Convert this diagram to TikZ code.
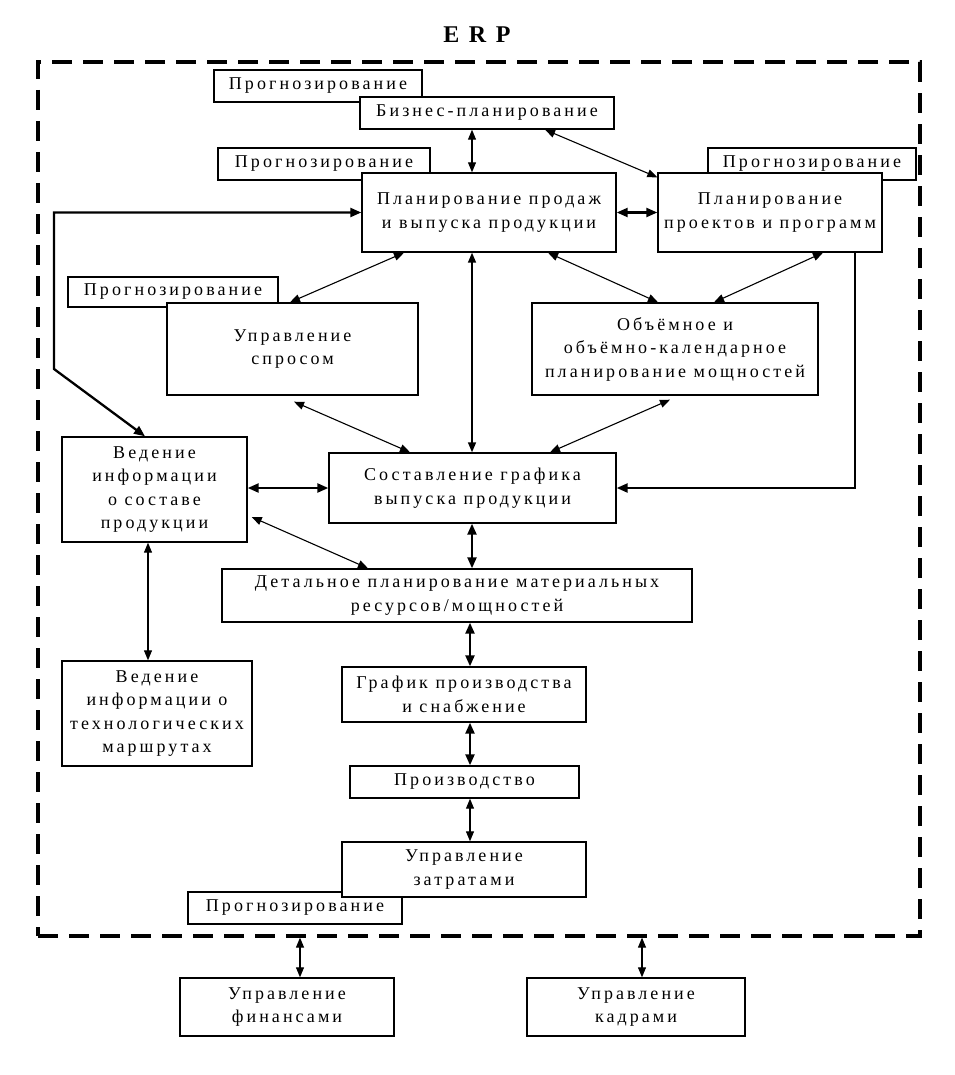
\documentclass[tikz,border=0pt]{standalone}
\usepackage{fontspec}
\setmainfont{Liberation Serif}[LetterSpace=17]
\usetikzlibrary{arrows.meta,calc}
\tikzset{
  box/.style={draw, fill=white, line width=1.4pt, inner sep=0pt, align=center,
    font=\fontsize{18}{23.5}\selectfont},
  frame/.style={draw, line width=3.2pt, dash pattern=on 20pt off 11pt, inner sep=0pt},
  Tri/.tip={Triangle[length=10pt,width=8pt]},
  TriB/.tip={Triangle[length=11pt,width=9pt]},
  cthin/.style={line width=1.1pt, Tri-Tri},
  cmed/.style={line width=1.6pt, Tri-Tri},
  cthick/.style={line width=2.3pt, TriB-TriB},
}
\newcommand\bx[6]{\node[box, minimum width={(#4)-(#2)}, minimum height={(#5)-(#3)}] (#1) at ({((#2)+(#4))/2},{((#3)+(#5))/2}) {#6};}
\begin{document}
\begin{tikzpicture}[x=1pt,y=-1pt]
\useasboundingbox (0,0) rectangle (954,1075);
\fill[white] (0,0) rectangle (954,1075);
\node[frame, minimum width=882, minimum height=874] (erp) at (479,499) {};
\node[font=\bfseries\fontsize{24}{28}\selectfont\addfontfeature{LetterSpace=40}] (title) at (477,35) {ERP};
% forecasting boxes (behind)
\bx{pra}{214}{70}{422}{102}{Прогнозирование}
\bx{prb}{218}{148}{430}{180}{Прогнозирование}
\bx{prc}{708}{148}{916}{180}{Прогнозирование}
\bx{prd}{68}{277}{278}{307}{Прогнозирование}
\bx{pre}{188}{892}{402}{924}{Прогнозирование}
% main boxes
\bx{biz}{360}{97}{614}{129}{Бизнес-планирование}
\bx{sales}{362}{173}{616}{252}{Планирование продаж\\и выпуска продукции}
\bx{proj}{658}{173}{882}{252}{Планирование\\проектов и программ}
\bx{dem}{167}{303}{418}{395}{Управление\\спросом}
\bx{vol}{532}{303}{818}{395}{Объёмное и\\объёмно-календарное\\планирование мощностей}
\bx{bom}{62}{437}{247}{542}{Ведение\\информации\\о составе\\продукции}
\bx{sched}{329}{453}{616}{523}{Составление графика\\выпуска продукции}
\bx{det}{222}{569}{692}{622}{Детальное планирование материальных\\ресурсов/мощностей}
\bx{rout}{62}{661}{252}{766}{Ведение\\информации о\\технологических\\маршрутах}
\bx{mps}{342}{667}{586}{722}{График производства\\и снабжение}
\bx{prod}{350}{766}{579}{798}{Производство}
\bx{cost}{342}{842}{586}{897}{Управление\\затратами}
\bx{fin}{180}{978}{394}{1036}{Управление\\финансами}
\bx{hr}{527}{978}{745}{1036}{Управление\\кадрами}
% connectors
\coordinate (L1) at (54,212.5);
\coordinate (L2) at (54,369);
\coordinate (R1) at (855,488);
\draw[cthin] (472,0 |- biz.south) -- (472,0 |- sales.north);
\draw[cthin] (545,0 |- biz.south) -- ($(proj.north west)+(0,5)$);
\draw[cthick] (sales.east) -- (proj.west);
\draw[line width=2.3pt, TriB-TriB] (sales.west) -- (L1) -- (L2) -- (145,0 |- bom.north);
\draw[cthin] (404,0 |- sales.south) -- (290,0 |- dem.north);
\draw[cmed] (472,0 |- sales.south) -- (472,0 |- sched.north);
\draw[cthin] (548,0 |- sales.south) -- (658,0 |- vol.north);
\draw[cthin] (823,0 |- proj.south) -- (714,0 |- vol.north);
\draw[cthin] ($(294,0 |- dem.south)+(0,6)$) -- (410,0 |- sched.north);
\draw[cthin] ($(670,0 |- vol.south)+(0,4)$) -- (550,0 |- sched.north);
\draw[line width=2.3pt, -TriB] (855,0 |- proj.south) -- (R1) -- (sched.east);
\draw[cthick] (bom.east |- sched.west) -- (sched.west);
\draw[cthin] ($(bom.east |- 0,517)+(4,0)$) -- (368,0 |- det.north);
\draw[cthick] (472,0 |- sched.south) -- (472,0 |- det.north);
\draw[cthin] (148,0 |- bom.south) -- (148,0 |- rout.north);
\draw[cthick] (470,0 |- det.south) -- (470,0 |- mps.north);
\draw[cthick] (470,0 |- mps.south) -- (470,0 |- prod.north);
\draw[cthin] (470,0 |- prod.south) -- (470,0 |- cost.north);
\draw[cthin] (300,0 |- erp.south) -- (300,0 |- fin.north);
\draw[cthin] (642,0 |- erp.south) -- (642,0 |- hr.north);
\end{tikzpicture}
\end{document}
